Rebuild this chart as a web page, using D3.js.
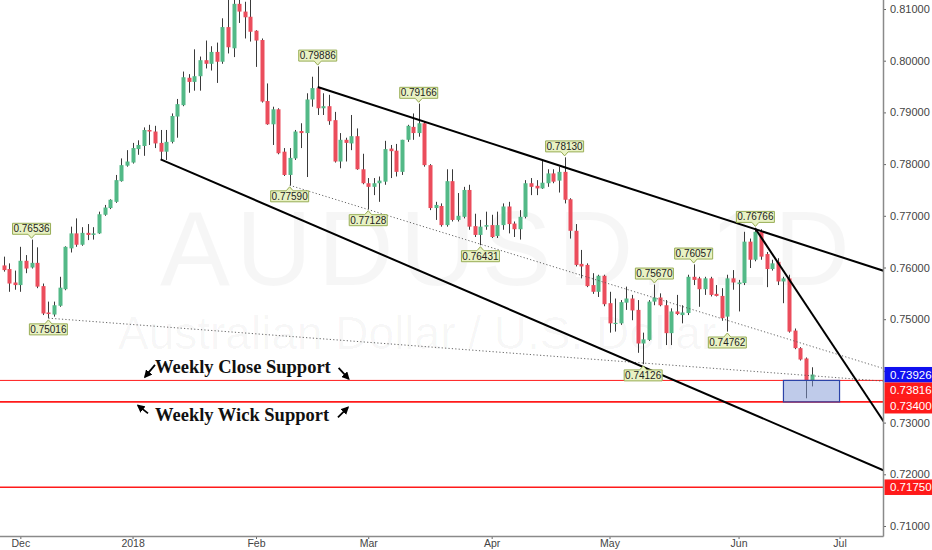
<!DOCTYPE html>
<html>
<head>
<meta charset="utf-8">
<script src="https://cdn.jsdelivr.net/npm/d3@7"></script>
<style>
  body { margin: 0; background: #fff; }
  svg { display: block; }
</style>
</head>
<body>
<svg id="chart" width="932" height="550"></svg>
<script>
// daily AUDUSD candles, 28 Nov 2017 .. 20 Jun 2018 (bar index 0..144)
const opens = [
  .7604,.7597,.7571,.7566,.7613,.7600,.7609,.7564,.7513,.7509,
  .7526,.7558,.7637,.7666,.7644,.7667,.7663,.7666,.7702,.7715,
  .7727,.7767,.7797,.7803,.7829,.7835,.7866,.7863,.7841,.7824,
  .7843,.7892,.7914,.7967,.7959,.7970,.8001,.7994,.8017,.7998,
  .8065,.8024,.8110,.8095,.8085,.8058,.8040,.7922,.7877,.7906,
  .7824,.7779,.7811,.7864,.7860,.7925,.7947,.7908,.7912,.7885,
  .7805,.7847,.7840,.7854,.7790,.7763,.7756,.7763,.7766,.7830,
  .7826,.7785,.7847,.7872,.7860,.7879,.7798,.7715,.7719,.7682,
  .7767,.7692,.7698,.7750,.7680,.7663,.7679,.7682,.7661,.7682,
  .7718,.7685,.7674,.7698,.7763,.7758,.7753,.7763,.7782,.7768,
  .7785,.7732,.7671,.7607,.7605,.7566,.7553,.7584,.7531,.7491,
  .7492,.7532,.7540,.7518,.7453,.7460,.7534,.7542,.7527,.7473,
  .7515,.7508,.7512,.7582,.7579,.7558,.7579,.7549,.7545,.7505,
  .7579,.7568,.7570,.7650,.7615,.7669,.7626,.7597,.7611,.7573,
  .7579,.7478,.7444,.7424,.7382
];
const highs = [
  .7621,.7608,.7594,.7640,.7624,.7654,.7639,.7569,.7534,.7534,
  .7582,.7641,.7679,.7695,.7678,.7684,.7678,.7708,.7721,.7732,
  .7779,.7811,.7827,.7841,.7846,.7871,.7876,.7874,.7866,.7866,
  .7898,.7926,.7979,.7974,.8022,.8008,.8039,.8028,.8035,.8082,
  .8121,.8135,.8133,.8114,.8123,.8059,.8043,.7956,.7911,.7908,
  .7831,.7831,.7866,.7879,.7937,.7969,.7989,.7937,.7934,.7901,
  .7860,.7851,.7895,.7869,.7820,.7773,.7773,.7776,.7845,.7837,
  .7839,.7847,.7876,.7898,.7917,.7882,.7800,.7727,.7724,.7790,
  .7790,.7744,.7756,.7760,.7704,.7692,.7708,.7702,.7708,.7724,
  .7727,.7689,.7711,.7769,.7773,.7769,.7808,.7790,.7790,.7795,
  .7813,.7734,.7684,.7634,.7608,.7589,.7586,.7586,.7553,.7540,
  .7537,.7563,.7547,.7537,.7474,.7537,.7567,.7550,.7537,.7521,
  .7547,.7527,.7586,.7606,.7582,.7582,.7582,.7566,.7560,.7586,
  .7595,.7576,.7669,.7656,.7677,.7674,.7630,.7615,.7618,.7582,
  .7586,.7482,.7446,.7426,.7407
];
const lows = [
  .7592,.7553,.7557,.7553,.7589,.7598,.7560,.7508,.7502,.7505,
  .7524,.7556,.7629,.7640,.7642,.7653,.7654,.7665,.7700,.7713,
  .7725,.7766,.7795,.7801,.7818,.7816,.7837,.7831,.7808,.7808,
  .7840,.7851,.7912,.7938,.7942,.7942,.7985,.7981,.7957,.7994,
  .8014,.8007,.8073,.8043,.8037,.7988,.7919,.7876,.7837,.7819,
  .7777,.7759,.7808,.7831,.7775,.7911,.7895,.7895,.7876,.7803,
  .7792,.7805,.7827,.7789,.7761,.7713,.7740,.7727,.7760,.7773,
  .7776,.7779,.7843,.7847,.7853,.7795,.7711,.7692,.7679,.7679,
  .7689,.7689,.7695,.7673,.7659,.7643,.7673,.7657,.7657,.7673,
  .7666,.7659,.7654,.7695,.7740,.7740,.7752,.7756,.7763,.7745,
  .7724,.7656,.7602,.7579,.7562,.7549,.7543,.7525,.7474,.7476,
  .7489,.7518,.7498,.7435,.7413,.7458,.7527,.7525,.7450,.7450,
  .7508,.7492,.7508,.7566,.7524,.7547,.7544,.7544,.7497,.7476,
  .7557,.7515,.7566,.7599,.7612,.7615,.7562,.7594,.7566,.7531,
  .7474,.7442,.7420,.7347,.7370
];
const closes = [
  .7595,.7569,.7566,.7613,.7598,.7609,.7563,.7511,.7510,.7527,
  .7561,.7640,.7666,.7644,.7667,.7663,.7666,.7703,.7716,.7731,
  .7769,.7798,.7805,.7831,.7837,.7866,.7863,.7840,.7824,.7843,
  .7893,.7916,.7968,.7959,.7970,.8001,.7994,.8017,.7998,.8065,
  .8026,.8110,.8095,.8084,.8056,.8039,.7921,.7877,.7906,.7821,
  .7779,.7812,.7863,.7860,.7925,.7947,.7908,.7912,.7883,.7805,
  .7847,.7841,.7854,.7790,.7763,.7756,.7763,.7768,.7829,.7825,
  .7785,.7847,.7874,.7860,.7879,.7798,.7715,.7721,.7682,.7767,
  .7692,.7700,.7750,.7679,.7663,.7679,.7682,.7659,.7682,.7718,
  .7684,.7674,.7698,.7763,.7756,.7753,.7764,.7782,.7766,.7785,
  .7731,.7671,.7605,.7602,.7564,.7553,.7584,.7529,.7492,.7493,
  .7533,.7540,.7517,.7453,.7461,.7534,.7542,.7527,.7473,.7515,
  .7510,.7513,.7582,.7576,.7558,.7579,.7547,.7545,.7502,.7579,
  .7571,.7571,.7650,.7615,.7669,.7621,.7597,.7608,.7573,.7579,
  .7476,.7444,.7422,.7382,.7393
];

// axis ticks
const yTicks = [0.71, 0.72, 0.73, 0.74, 0.75, 0.76, 0.77, 0.78, 0.79, 0.80, 0.81];
const xTickIdx = [3, 23, 45, 65, 87, 108, 131, 149];
const xTickLabels = ["Dec", "2018", "Feb", "Mar", "Apr", "May", "Jun", "Jul"];

// swing high / low callouts
const pivotIdx   = [5, 8, 56, 51, 74, 65, 100, 85, 116, 114, 123, 129, 134];
const pivotPrice = [0.76536, 0.75016, 0.79886, 0.77590, 0.79166, 0.77128, 0.78130,
                    0.76431, 0.75670, 0.74126, 0.76057, 0.74762, 0.76766];
const pivotSide  = ["up", "down", "up", "down", "up", "down", "up",
                    "down", "up", "down", "up", "down", "up"];

// drawn trend lines [bar index, price] -> [bar index, price]
const trendSolid = [
  [[56, 0.7949], [157, 0.7593]],
  [[28, 0.7809], [157, 0.7207]],
  [[134, 0.7675], [157, 0.7300]]
];
const trendDotted = [
  [[51, 0.7759], [157, 0.7404]],
  [[8, 0.7502], [157, 0.7380]]
];

// horizontal support levels and the zone box
const supportLevels = [0.73816, 0.73400, 0.71750];
const levelWidths = [1, 1.6, 1.6];
const zoneIdx = [139, 149];
const lastPrice = 0.73926;

const svg = d3.select("#chart");
const plotR = 883, plotB = 536;
const green = "#53b987", red = "#eb4d5c";

const x = d3.scaleLinear().domain([0, 144]).range([3.5, 811.5]);
const y = d3.scaleLinear().domain([0.71, 0.81]).range([526, 9]);

svg.append("defs").append("clipPath").attr("id", "pane")
  .append("rect").attr("width", plotR).attr("height", plotB);
const arrowHead = svg.select("defs").append("marker")
  .attr("id", "head").attr("viewBox", "0 0 10 10")
  .attr("refX", 8).attr("refY", 5)
  .attr("markerWidth", 4.5).attr("markerHeight", 4.5)
  .attr("orient", "auto");
arrowHead.append("path").attr("d", "M0,0 L10,5 L0,10 z").attr("fill", "#000");

const pane = svg.append("g").attr("clip-path", "url(#pane)");

// watermark
pane.append("text")
  .attr("x", 160).attr("y", 285)
  .attr("font-family", "Liberation Sans, Arial, sans-serif")
  .attr("font-size", 105).attr("letter-spacing", 6)
  .attr("fill", "#000").attr("fill-opacity", 0.035)
  .text("AUDUSD, 1D");
pane.append("text")
  .attr("x", 118).attr("y", 349)
  .attr("font-family", "Liberation Sans, Arial, sans-serif")
  .attr("font-size", 46)
  .attr("fill", "#000").attr("fill-opacity", 0.035)
  .text("Australian Dollar / U.S. Dollar");

// candles
const bars = d3.range(opens.length).map(i => ({
  i: i, o: opens[i], h: highs[i], l: lows[i], c: closes[i]
}));
const candle = pane.append("g").selectAll("g").data(bars).enter().append("g");
candle.append("line")
  .attr("x1", d => Math.round(x(d.i)) + 0.5).attr("x2", d => Math.round(x(d.i)) + 0.5)
  .attr("y1", d => y(d.h)).attr("y2", d => y(d.l))
  .attr("stroke", "#3a3a3a").attr("stroke-width", 1);
candle.append("rect")
  .attr("x", d => Math.round(x(d.i)) - 1.5)
  .attr("y", d => y(Math.max(d.o, d.c)))
  .attr("width", 4)
  .attr("height", d => Math.max(1.2, Math.abs(y(d.o) - y(d.c))))
  .attr("fill", d => d.c >= d.o ? green : red);

// support levels
pane.selectAll(".level").data(supportLevels).enter().append("line")
  .attr("x1", 0).attr("x2", plotR)
  .attr("y1", d => y(d)).attr("y2", d => y(d))
  .attr("stroke", "#ff1a1a")
  .attr("stroke-width", (d, i) => levelWidths[i]);

// zone box
pane.append("rect")
  .attr("x", x(zoneIdx[0])).attr("width", x(zoneIdx[1]) - x(zoneIdx[0]))
  .attr("y", y(supportLevels[0])).attr("height", y(supportLevels[1]) - y(supportLevels[0]))
  .attr("fill", "#7f97d6").attr("fill-opacity", 0.5)
  .attr("stroke", "#2c44a8").attr("stroke-width", 1.2);

// trend lines
pane.selectAll(".dot").data(trendDotted).enter().append("line")
  .attr("x1", d => x(d[0][0])).attr("y1", d => y(d[0][1]))
  .attr("x2", d => x(d[1][0])).attr("y2", d => y(d[1][1]))
  .attr("stroke", "#555").attr("stroke-width", 0.9)
  .attr("stroke-dasharray", "1.2,2.2");
pane.selectAll(".trend").data(trendSolid).enter().append("line")
  .attr("x1", d => x(d[0][0])).attr("y1", d => y(d[0][1]))
  .attr("x2", d => x(d[1][0])).attr("y2", d => y(d[1][1]))
  .attr("stroke", "#000").attr("stroke-width", 2);

// price callouts
const bw = 38, bh = 11;
const callout = pane.append("g").selectAll("g")
  .data(pivotIdx.map((d, i) => ({ i: d, p: pivotPrice[i], side: pivotSide[i] })))
  .enter().append("g");
callout.append("path")
  .attr("d", d => {
    const cx = x(d.i), x0 = cx - bw / 2, x1 = cx + bw / 2;
    if (d.side === "up") {
      const yb = y(d.p) - 5.5, yt = yb - bh;
      return `M${x0},${yt}H${x1}V${yb}H${cx + 3.5}L${cx},${yb + 4}L${cx - 3.5},${yb}H${x0}Z`;
    }
    const yt = y(d.p) + 5.5, yb = yt + bh;
    return `M${x0},${yt}H${cx - 3.5}L${cx},${yt - 4}L${cx + 3.5},${yt}H${x1}V${yb}H${x0}Z`;
  })
  .attr("fill", "#e9f2c4").attr("stroke", "#98ad55").attr("stroke-width", 1);
callout.append("text")
  .attr("x", d => x(d.i))
  .attr("y", d => d.side === "up" ? y(d.p) - 5.5 - bh / 2 : y(d.p) + 5.5 + bh / 2)
  .attr("dy", "0.36em")
  .attr("text-anchor", "middle")
  .attr("font-family", "Liberation Sans, Arial, sans-serif")
  .attr("font-size", 10).attr("fill", "#222")
  .text(d => d.p.toFixed(5));

// annotations
const noteFont = "Liberation Serif, Times New Roman, serif";
function note(txt, base, arrows) {
  const t = svg.append("text")
    .attr("x", 155).attr("y", base)
    .attr("font-family", noteFont).attr("font-weight", "bold")
    .attr("font-size", 18.5).attr("fill", "#111")
    .text(txt);
  const b = t.node().getBBox();
  const left = b.x, right = b.x + b.width;
  arrows(left, right).forEach(a => {
    svg.append("line")
      .attr("x1", a[0]).attr("y1", a[1]).attr("x2", a[2]).attr("y2", a[3])
      .attr("stroke", "#000").attr("stroke-width", 1.8)
      .attr("marker-end", "url(#head)");
  });
}
const closeBase = y(supportLevels[0]) - 7.5;
note("Weekly Close Support", closeBase, (l, r) => [
  [l, closeBase - 8, l - 10, closeBase + 4],
  [r + 7, closeBase - 5, r + 17, closeBase + 6]
]);
const wickBase = y(supportLevels[1]) + 19.5;
note("Weekly Wick Support", wickBase, (l, r) => [
  [l - 7, wickBase - 8, l - 17, wickBase - 16],
  [r + 8, wickBase - 4, r + 18, wickBase - 14]
]);

// axes
const axisFont = "Liberation Sans, Arial, sans-serif";
const yAxis = svg.append("g")
  .attr("transform", `translate(${plotR},0)`)
  .call(d3.axisRight(y).tickValues(yTicks).tickSize(3).tickPadding(4)
    .tickFormat(d3.format(".5f")));
yAxis.select(".domain").remove();
yAxis.selectAll("text").attr("font-family", axisFont).attr("font-size", 11).attr("fill", "#444");
yAxis.selectAll("line").attr("stroke", "#666");

const xAxis = svg.append("g")
  .attr("transform", `translate(0,${plotB})`)
  .call(d3.axisBottom(x).tickValues(xTickIdx).tickSize(3)
    .tickFormat((d, i) => xTickLabels[i]));
xAxis.select(".domain").remove();
xAxis.selectAll("text").attr("y", 4).attr("font-family", axisFont)
  .attr("font-size", 10.5).attr("fill", "#444");
xAxis.selectAll("line").attr("stroke", "#666");

svg.append("line").attr("x1", plotR + 0.5).attr("x2", plotR + 0.5)
  .attr("y1", 0).attr("y2", plotB + 0.5)
  .attr("stroke", "#8a8a8a").attr("stroke-width", 1.5);
svg.append("line").attr("x1", 0).attr("x2", plotR + 0.5)
  .attr("y1", plotB + 0.5).attr("y2", plotB + 0.5)
  .attr("stroke", "#8a8a8a").attr("stroke-width", 1.5);

// price tags on the right scale, pushed apart when they overlap
const tags = [{ p: lastPrice, fill: "#1010f0" }]
  .concat(supportLevels.map(p => ({ p: p, fill: "#ff1a1a" })))
  .sort((a, b) => y(a.p) - y(b.p));
const tagH = 15.5;
let prev = -Infinity;
tags.forEach(t => { t.cy = Math.max(y(t.p), prev + tagH); prev = t.cy; });
const tag = svg.append("g").selectAll("g").data(tags).enter().append("g");
tag.append("rect")
  .attr("x", plotR + 1.5).attr("width", 932 - plotR)
  .attr("y", d => d.cy - tagH / 2).attr("height", tagH)
  .attr("fill", d => d.fill);
tag.append("text")
  .attr("x", plotR + 7).attr("y", d => d.cy).attr("dy", "0.36em")
  .attr("font-family", axisFont).attr("font-size", 11.5)
  .attr("fill", "#fff")
  .text(d => d.p.toFixed(5));
</script>
</body>
</html>
